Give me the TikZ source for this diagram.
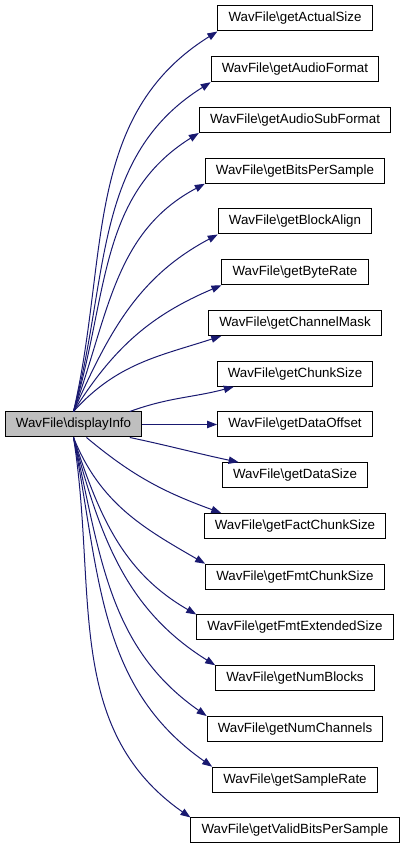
\documentclass[tikz,border=0pt]{standalone}
\usepackage{fontspec}
\setmainfont{Liberation Sans}
\usetikzlibrary{arrows.meta}
\definecolor{edgeblue}{RGB}{25,25,112}
\definecolor{selgray}{RGB}{191,191,191}
\tikzstyle{func} = [draw, rectangle, line width=0.75pt, fill=white,
minimum height=18.75pt, inner xsep=8pt, inner ysep=0pt,
font=\fontsize{10}{12}\selectfont]
\tikzstyle{call} = [draw=edgeblue, line width=0.75pt,
-{Triangle[length=7.5pt,width=5.5pt]}]

\begin{document}
\begin{tikzpicture}[x=0.75pt, y=0.75pt]
	\useasboundingbox (0,0) rectangle (404,848);
	% caller
	\node [func, fill=selgray] at (73.5,423.5) (disp) {WavFile\textbackslash displayInfo};
	% callees
	\node [func] at (295,829.5) (actualsize) {WavFile\textbackslash getActualSize};
	\node [func] at (295,778.75) (audioformat) {WavFile\textbackslash getAudioFormat};
	\node [func] at (295,728) (audiosubformat) {WavFile\textbackslash getAudioSubFormat};
	\node [func] at (295,677.25) (bitspersample) {WavFile\textbackslash getBitsPerSample};
	\node [func] at (295,626.5) (blockalign) {WavFile\textbackslash getBlockAlign};
	\node [func] at (295,575.75) (byterate) {WavFile\textbackslash getByteRate};
	\node [func] at (295,525) (channelmask) {WavFile\textbackslash getChannelMask};
	\node [func] at (295,474.25) (chunksize) {WavFile\textbackslash getChunkSize};
	\node [func] at (295,423.5) (dataoffset) {WavFile\textbackslash getDataOffset};
	\node [func] at (295,372.75) (datasize) {WavFile\textbackslash getDataSize};
	\node [func] at (295,322) (factchunksize) {WavFile\textbackslash getFactChunkSize};
	\node [func] at (295,271.25) (fmtchunksize) {WavFile\textbackslash getFmtChunkSize};
	\node [func] at (295,220.5) (fmtextsize) {WavFile\textbackslash getFmtExtendedSize};
	\node [func] at (295,169.75) (numblocks) {WavFile\textbackslash getNumBlocks};
	\node [func] at (295,119) (numchannels) {WavFile\textbackslash getNumChannels};
	\node [func] at (295,68.25) (samplerate) {WavFile\textbackslash getSampleRate};
	\node [func] at (295,17.5) (validbits) {WavFile\textbackslash getValidBitsPerSample};
	%% Calls
	% upwards
	\path [call] (disp.north) to [out=77, in=212] (actualsize.south west);
	\path [call] (disp.north) to [out=75, in=212] (audioformat.south west);
	\path [call] (disp.north) to [out=73, in=212] (audiosubformat.south west);
	\path [call] (disp.north) to [out=70, in=208] (bitspersample.south west);
	\path [call] (disp.north) to [out=66, in=208] (blockalign.south west);
	\path [call] (disp.north) to [out=58, in=203] (byterate.south west);
	\path [call] (disp.north) to [out=48, in=198] (channelmask.190);
	\path [call] (disp.13) to [out=20, in=195] (chunksize.192);
	% straight
	\path [call] (disp.east) to (dataoffset.west);
	% downwards
	\path [call] (disp.-13) to [out=-12, in=168] (datasize.167);
	\path [call] (disp.-45) to [out=-40, in=160] (factchunksize.170);
	\path [call] (disp.south) to [out=-68, in=150] (fmtchunksize.north west);
	\path [call] (disp.south) to [out=-72, in=150] (fmtextsize.north west);
	\path [call] (disp.south) to [out=-75, in=148] (numblocks.north west);
	\path [call] (disp.south) to [out=-77, in=145] (numchannels.north west);
	\path [call] (disp.south) to [out=-79, in=145] (samplerate.north west);
	\path [call] (disp.south) to [out=-81, in=145] (validbits.north west);
\end{tikzpicture}
\end{document}
